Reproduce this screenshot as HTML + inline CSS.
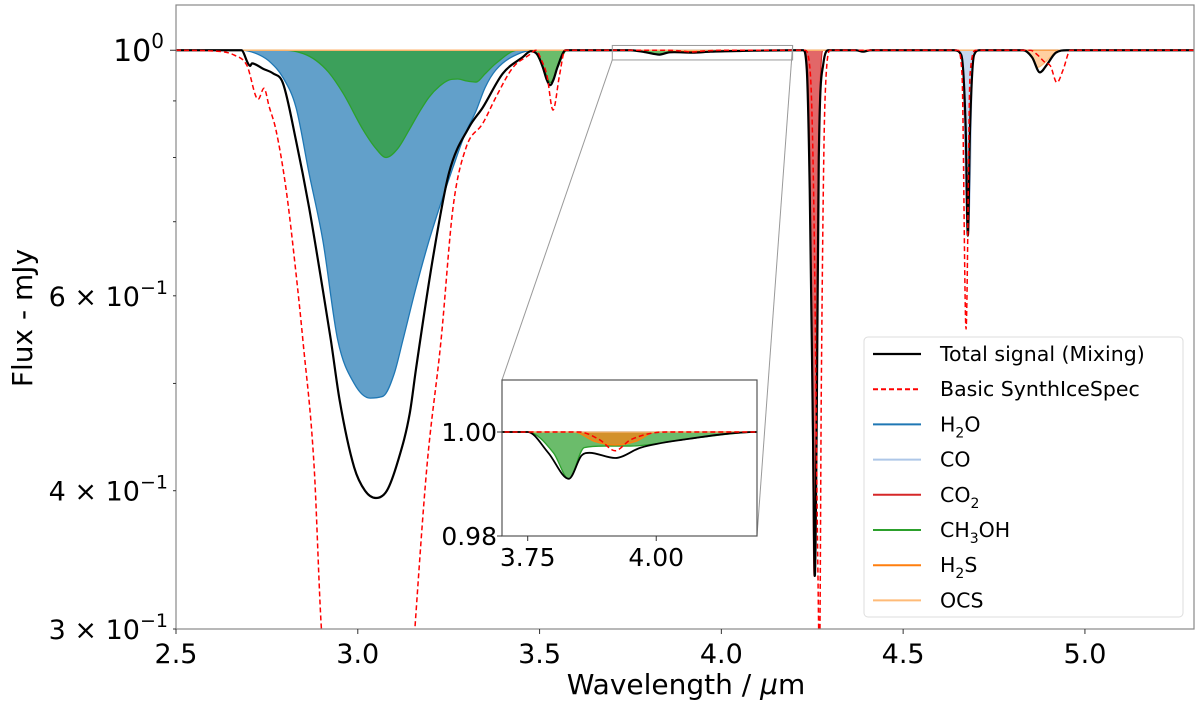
<!DOCTYPE html>
<html><head><meta charset="utf-8">
<style>
html,body{margin:0;padding:0;background:#fff;width:1200px;height:707px;overflow:hidden;}
svg{display:block;font-family:"DejaVu Sans","Liberation Sans",sans-serif;}
</style></head>
<body>
<svg id="chart" width="1200" height="707" viewBox="0 0 1200 707">
<defs>
<clipPath id="mainClip"><rect x="176" y="5" width="1018" height="624"/></clipPath>
<clipPath id="insetClip"><rect x="502" y="380" width="255" height="156"/></clipPath>
</defs>
<rect x="0" y="0" width="1200" height="707" fill="#fff"/>
<g id="mainPlot" clip-path="url(#mainClip)"></g>
<g id="mainAxes"></g>
<g id="zoomLines"></g>
<rect x="502" y="380" width="255" height="156" fill="#fff"/>
<g id="insetPlot" clip-path="url(#insetClip)"></g>
<g id="insetAxes"></g>
<text x="686" y="694" font-size="28" text-anchor="middle">Wavelength / <tspan font-style="italic">μ</tspan>m</text>
<text transform="translate(32,318) rotate(-90)" font-size="28" text-anchor="middle">Flux - mJy</text>
<g id="legend">
<rect x="864" y="337" width="319" height="280" rx="4" fill="#fff" fill-opacity="0.85" stroke="#ddd" stroke-width="1"/>
</g>
</svg>
<script>
// ---------- data ----------
const totalX = [2.5,2.68,2.698,2.704,2.709,2.74,2.767,2.794,2.83,2.866,2.904,2.926,2.95,2.99,3.02,3.05,3.08,3.11,3.143,3.16,3.207,3.251,3.306,3.344,3.399,3.454,3.476,3.495,3.509,3.52,3.529,3.538,3.549,3.572,3.75,3.79,3.83,3.855,3.87,3.92,3.97,4.05,4.2,4.225,4.235,4.243,4.252,4.257,4.262,4.268,4.28,4.295,4.37,4.39,4.41,4.64,4.66,4.672,4.678,4.684,4.695,4.71,4.83,4.855,4.876,4.895,4.92,4.95,5.3];
const totalY = [1,1,0.973,0.968,0.973,0.962,0.953,0.934,0.829,0.721,0.607,0.547,0.483,0.42,0.40,0.394,0.40,0.425,0.47,0.515,0.65,0.775,0.852,0.888,0.953,0.986,0.998,0.99,0.965,0.94,0.93,0.94,0.965,1,1,0.996,0.991,0.9955,0.996,0.995,0.997,0.9985,1,1,0.96,0.75,0.45,0.335,0.45,0.8,0.97,1,1,0.997,1,1,0.99,0.85,0.68,0.85,0.99,1,1,0.985,0.955,0.97,0.995,1,1];

const basicX = [2.5,2.613,2.66,2.695,2.726,2.742,2.756,2.775,2.803,2.83,2.849,2.88,2.90,2.95,3.05,3.13,3.157,3.19,3.229,3.262,3.298,3.344,3.38,3.427,3.471,3.49,3.505,3.52,3.537,3.555,3.57,3.85,3.89,3.92,3.95,4.02,4.23,4.245,4.255,4.265,4.27,4.275,4.285,4.30,4.65,4.662,4.673,4.684,4.70,4.85,4.87,4.89,4.905,4.923,4.94,4.96,5.3];
const basicY = [1,0.998,0.99,0.969,0.903,0.924,0.89,0.847,0.748,0.629,0.547,0.42,0.30,0.22,0.18,0.22,0.30,0.42,0.547,0.721,0.817,0.859,0.907,0.965,0.99,1,0.98,0.95,0.883,0.95,1,1,0.9985,0.9964,0.9985,1,1,0.95,0.7,0.35,0.28,0.5,0.9,1,1,0.95,0.56,0.95,1,1,0.99,0.975,0.968,0.935,0.96,1,1];

const h2oX = [2.5,2.68,2.73,2.76,2.794,2.83,2.866,2.904,2.945,2.99,3.034,3.07,3.10,3.124,3.16,3.196,3.23,3.262,3.295,3.325,3.35,3.38,3.45,3.5,5.3];
const h2oY = [1,1,0.99,0.975,0.945,0.888,0.774,0.673,0.547,0.5,0.485,0.487,0.51,0.547,0.61,0.673,0.73,0.784,0.84,0.881,0.925,0.96,0.995,1,1];

const coX = [4.5,4.655,4.665,4.672,4.678,4.684,4.69,4.70,5.3];
const coY = [1,1,0.95,0.75,0.68,0.75,0.95,1,1];

const co2X = [4.1,4.228,4.236,4.243,4.25,4.255,4.26,4.265,4.272,4.28,4.4];
const co2Y = [1,1,0.97,0.8,0.5,0.335,0.42,0.7,0.93,1,1];

const ch3ohX = [2.5,2.80,2.85,2.885,2.92,2.96,3.015,3.05,3.078,3.11,3.141,3.17,3.196,3.225,3.251,3.275,3.30,3.325,3.35,3.38,3.44,3.48,3.51,3.53,3.55,3.575,3.75,3.80,3.83,3.86,3.90,3.95,4.05,4.15,4.2,5.3];
const ch3ohY = [1,1,0.993,0.979,0.955,0.914,0.847,0.815,0.80,0.815,0.847,0.88,0.907,0.928,0.94,0.942,0.938,0.936,0.952,0.973,1,1,0.965,0.935,0.965,1,1,0.996,0.991,0.997,0.9973,0.9973,0.9985,0.9997,1,1];

const h2sX = [2.5,3.84,3.88,3.92,3.96,4.0,5.3];
const h2sY = [1,1,0.9982,0.9975,0.9982,1,1];

const ocsX = [2.5,4.83,4.85,4.87,4.89,4.91,4.93,5.3];
const ocsY = [1,1,0.99,0.965,0.975,0.99,1,1];

const xTicks = [2.5,3.0,3.5,4.0,4.5,5.0];
const xTickLabels = ["2.5","3.0","3.5","4.0","4.5","5.0"];
const yMajor = [1];
const yMinor = [0.3,0.4,0.5,0.6,0.7,0.8,0.9];
const yMinorLabels = {"0.3":"3","0.4":"4","0.6":"6"};
const insetXTicks = [3.75,4.0];
const insetXTickLabels = ["3.75","4.00"];
const insetYTicks = [0.98,1.0];
const insetYTickLabels = ["0.98","1.00"];

// ---------- scales ----------
const M = {x0:176,x1:1194,y0:629,y1:5,xmin:2.5,xmax:5.3,lmin:Math.log10(0.3),lmax:Math.log10(1.0987)};
const mx = v => M.x0 + (v-M.xmin)/(M.xmax-M.xmin)*(M.x1-M.x0);
const my = v => M.y0 - (Math.log10(v)-M.lmin)/(M.lmax-M.lmin)*(M.y0-M.y1);
const I = {x0:502,x1:757,y0:536,y1:380,xmin:3.70,xmax:4.196,ymin:0.98,ymax:1.01};
const ix = v => I.x0 + (v-I.xmin)/(I.xmax-I.xmin)*(I.x1-I.x0);
const iy = v => I.y0 - (v-I.ymin)/(I.ymax-I.ymin)*(I.y0-I.y1);

const NS='http://www.w3.org/2000/svg';
function mk(tag, attrs, parent){const e=document.createElementNS(NS,tag);for(const k in attrs)e.setAttribute(k,attrs[k]);parent.appendChild(e);return e;}
function linePath(xs,ys,fx,fy){
  const P=xs.map((x,i)=>[fx(x),fy(ys[i])]);
  const n=P.length; if(n<2) return '';
  const d=[],m=new Array(n);
  for(let i=0;i<n-1;i++){const dx=P[i+1][0]-P[i][0];d.push(dx===0?0:(P[i+1][1]-P[i][1])/dx);}
  m[0]=d[0];m[n-1]=d[n-2];
  for(let i=1;i<n-1;i++){ m[i]=(d[i-1]*d[i]<=0)?0:(d[i-1]+d[i])/2; }
  for(let i=0;i<n-1;i++){
    if(d[i]===0){m[i]=0;m[i+1]=0;continue;}
    const a=m[i]/d[i],b=m[i+1]/d[i],s=a*a+b*b;
    if(s>9){const t=3/Math.sqrt(s);m[i]=t*a*d[i];m[i+1]=t*b*d[i];}
  }
  let s='M'+P[0][0].toFixed(2)+','+P[0][1].toFixed(2);
  for(let i=0;i<n-1;i++){
    const h=(P[i+1][0]-P[i][0])/3;
    s+=' C'+(P[i][0]+h).toFixed(2)+','+(P[i][1]+m[i]*h).toFixed(2)+' '+(P[i+1][0]-h).toFixed(2)+','+(P[i+1][1]-m[i+1]*h).toFixed(2)+' '+P[i+1][0].toFixed(2)+','+P[i+1][1].toFixed(2);
  }
  return s;
}
function fillPath(xs,ys,fx,fy){return linePath(xs,ys,fx,fy)+' L'+fx(xs[xs.length-1]).toFixed(2)+','+fy(1).toFixed(2)+' L'+fx(xs[0]).toFixed(2)+','+fy(1).toFixed(2)+' Z';}

const fills = [
 {n:'h2o',xs:h2oX,ys:h2oY,c:'#1f77b4'},
 {n:'ch3oh',xs:ch3ohX,ys:ch3ohY,c:'#2ca02c'},
 {n:'co',xs:coX,ys:coY,c:'#aec7e8'},
 {n:'co2',xs:co2X,ys:co2Y,c:'#d62728'},
 {n:'h2s',xs:h2sX,ys:h2sY,c:'#ff7f0e'},
 {n:'ocs',xs:ocsX,ys:ocsY,c:'#ffbb78'}
];

function drawPlot(g,fx,fy,lw){
  fills.forEach(f=>{
    const p=mk('path',{d:fillPath(f.xs,f.ys,fx,fy),fill:f.c,'fill-opacity':0.7,stroke:'none'},g);
    
    
    const l=mk('path',{d:linePath(f.xs,f.ys,fx,fy),fill:'none',stroke:f.c,'stroke-width':1.3},g);
    
    
  });
  const t=mk('path',{d:linePath(totalX,totalY,fx,fy),fill:'none',stroke:'#000','stroke-width':lw,'stroke-linejoin':'round'},g);
  
  
  const b=mk('path',{d:linePath(basicX,basicY,fx,fy),fill:'none',stroke:'#ff0000','stroke-width':1.5,'stroke-dasharray':'5,3'},g);
  
  
}
drawPlot(document.getElementById('mainPlot'),mx,my,2.2);
drawPlot(document.getElementById('insetPlot'),ix,iy,1.8);

// main axes
const ax=document.getElementById('mainAxes');
const fr=mk('rect',{x:M.x0,y:M.y1,width:M.x1-M.x0,height:M.y0-M.y1,fill:'none',stroke:'#888','stroke-width':1.2},ax);


xTicks.forEach((v,i)=>{
  mk('line',{x1:mx(v),x2:mx(v),y1:M.y0,y2:M.y0+5,stroke:'#333','stroke-width':1},ax);
  const t=mk('text',{x:mx(v),y:M.y0+34,'font-size':27,'text-anchor':'middle'},ax);
  t.textContent=xTickLabels[i];
  
  
});
yMajor.forEach(v=>{
  mk('line',{x1:M.x0-6,x2:M.x0,y1:my(v),y2:my(v),stroke:'#333','stroke-width':1},ax);
  const t=mk('text',{x:M.x0-12,y:my(v)+11,'font-size':30,'text-anchor':'end'},ax);
  t.innerHTML='10<tspan dy="-13" font-size="20">0</tspan>';
  
  
});
yMinor.forEach(v=>{
  mk('line',{x1:M.x0-3,x2:M.x0,y1:my(v),y2:my(v),stroke:'#333','stroke-width':1},ax);
  const lab=yMinorLabels[String(v)];
  if(lab){
    const t=mk('text',{x:M.x0-8,y:my(v)+10,'font-size':27,'text-anchor':'end'},ax);
    t.innerHTML=lab+' × 10<tspan dy="-12" font-size="19">−1</tspan>';
    
    
  }
});

// zoom indicator
const zl=document.getElementById('zoomLines');
const zx0=mx(I.xmin), zx1=mx(I.xmax), zy0=my(I.ymax), zy1=my(I.ymin);
mk('rect',{x:zx0,y:zy0,width:zx1-zx0,height:zy1-zy0,fill:'none',stroke:'#999','stroke-width':1},zl);
mk('line',{x1:zx0,y1:zy1,x2:I.x0,y2:I.y1,stroke:'#999','stroke-width':1},zl);
mk('line',{x1:zx1,y1:zy0,x2:I.x1,y2:I.y0,stroke:'#999','stroke-width':1},zl);

// inset axes
const ia=document.getElementById('insetAxes');
mk('rect',{x:I.x0,y:I.y1,width:I.x1-I.x0,height:I.y0-I.y1,fill:'none',stroke:'#555','stroke-width':1.2},ia);
insetXTicks.forEach((v,i)=>{
  mk('line',{x1:ix(v),x2:ix(v),y1:I.y0,y2:I.y0+5,stroke:'#333','stroke-width':1},ia);
  const t=mk('text',{x:ix(v),y:I.y0+30,'font-size':25,'text-anchor':'middle'},ia);
  t.textContent=insetXTickLabels[i];
  
  
});
insetYTicks.forEach((v,i)=>{
  mk('line',{x1:I.x0-5,x2:I.x0,y1:iy(v),y2:iy(v),stroke:'#333','stroke-width':1},ia);
  const t=mk('text',{x:I.x0-5,y:iy(v)+9,'font-size':25,'text-anchor':'end'},ia);
  t.textContent=insetYTickLabels[i];
  
  
});

// legend
const lg=document.getElementById('legend');
const entries=[
 {h:'Total signal (Mixing)',c:'#000',d:null,n:'legend-total'},
 {h:'Basic SynthIceSpec',c:'#ff0000',d:'5,3',n:'legend-basic'},
 {h:'H<tspan dy="6" font-size="14">2</tspan><tspan dy="-6">O</tspan>',c:'#1f77b4',d:null,n:'legend-h2o'},
 {h:'CO',c:'#aec7e8',d:null,n:'legend-co'},
 {h:'CO<tspan dy="6" font-size="14">2</tspan>',c:'#d62728',d:null,n:'legend-co2'},
 {h:'CH<tspan dy="6" font-size="14">3</tspan><tspan dy="-6">OH</tspan>',c:'#2ca02c',d:null,n:'legend-ch3oh'},
 {h:'H<tspan dy="6" font-size="14">2</tspan><tspan dy="-6">S</tspan>',c:'#ff7f0e',d:null,n:'legend-h2s'},
 {h:'OCS',c:'#ffbb78',d:null,n:'legend-ocs'}
];
entries.forEach((e,i)=>{
  const y=354+i*35.2;
  const g=mk('g',{},lg);
  
  
  const a={x1:873,x2:921,y1:y,y2:y,stroke:e.c,'stroke-width':e.c==='#000'?2.2:2};
  if(e.d)a['stroke-dasharray']=e.d;
  mk('line',a,g);
  const t=mk('text',{x:940,y:y+7,'font-size':20.5},g);
  t.innerHTML=e.h;
});
</script>
</body></html>
